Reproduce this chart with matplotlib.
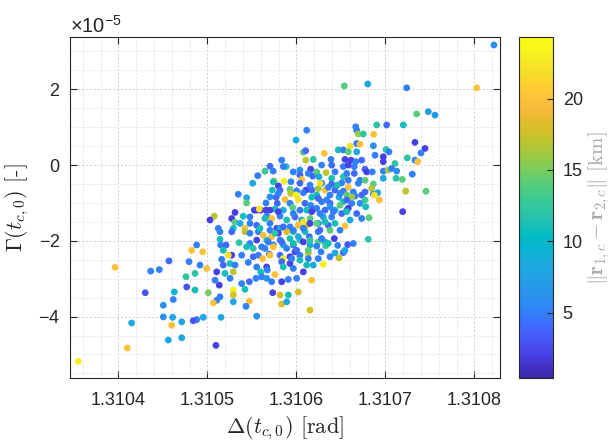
import numpy as np
import matplotlib
matplotlib.use("Agg")
import matplotlib.pyplot as plt
from matplotlib.colors import LinearSegmentedColormap, Normalize
from matplotlib.ticker import MultipleLocator, FixedLocator, FormatStrFormatter, ScalarFormatter

# ---------------- data ----------------
# Delta(t_c,0) [rad], Gamma(t_c,0) [x1e-5], separation ||r1 - r2|| [km]
delta = [
 1.3106116,1.3105996,1.3106078,1.3106105,1.3106105,1.3106190,1.3105835,1.3105703,1.3105883,1.3105965,
 1.3106040,1.3106161,1.3105647,1.3105740,1.3106040,1.3106134,1.3106060,1.3106183,1.3105565,1.3105748,
 1.3105861,1.3105939,1.3105509,1.3105797,1.3105729,1.3105816,1.3105928,1.3106003,1.3106108,1.3106172,
 1.3105936,1.3105996,1.3106078,1.3105347,1.3105441,1.3105771,1.3105872,1.3106021,1.3106172,1.3105441,
 1.3105658,1.3105785,1.3105928,1.3106097,1.3106161,1.3105527,1.3105554,1.3105599,1.3105583,1.3105658,
 1.3105759,1.3105853,1.3105958,1.3106040,1.3106116,1.3106190,1.3105310,1.3105403,1.3105666,1.3105722,
 1.3105816,1.3105891,1.3105984,1.3106060,1.3106153,1.3105077,1.3105029,1.3105273,1.3105310,1.3105366,
 1.3105478,1.3105554,1.3105703,1.3105779,1.3105928,1.3106021,1.3106116,1.3105122,1.3105291,1.3105422,
 1.3105816,
 # right-upper block
 1.3107352,1.3107483,1.3107558,1.3106667,1.3106678,1.3106903,1.3107015,1.3107202,1.3106696,1.3106752,
 1.3106869,1.3106603,1.3106678,1.3106715,1.3106865,1.3107333,1.3106471,1.3106527,1.3106583,1.3106678,
 1.3107007,1.3107041,1.3107446,1.3107401,1.3106314,1.3106884,1.3106977,1.3107247,1.3107333,1.3107364,
 1.3106389,1.3106546,1.3106614,1.3106667,1.3106734,1.3106977,1.3107108,1.3106284,1.3106397,1.3106527,
 1.3106583,1.3106651,1.3106771,1.3106790,1.3106853,1.3106977,1.3107033,1.3107071,1.3107128,1.3107303,
 1.3106228,1.3106333,1.3106434,1.3106651,1.3106254,1.3106397,1.3106527,1.3106583,1.3106715,1.3106771,
 1.3106977,1.3107120,1.3107191,1.3106284,1.3106397,1.3106509,1.3106583,1.3106696,1.3106865,1.3106847,
 1.3106914,1.3106246,1.3106322,1.3106359,1.3106434,1.3106527,1.3106640,1.3106771,1.3106865,1.3107229,
 1.3107457,1.3106228,1.3106378,1.3106479,1.3106566,1.3106659,1.3106734,1.3106876,1.3106932,1.3106771,
 1.3106284,1.3106378,1.3106527,1.3106622,1.3106715,1.3106779,1.3106228,1.3106322,1.3106434,1.3106566,
 1.3106583,1.3107195,1.3106302,1.3106397,1.3106509,1.3106734,1.3106816,1.3106246,1.3106359,1.3106546,
 1.3106434,
 # left-lower block
 1.3105141,1.3105273,1.3105422,1.3105572,1.3105797,1.3105891,1.3105965,1.3106097,1.3105141,1.3105355,
 1.3105478,1.3105554,1.3105722,1.3105666,1.3105816,1.3105928,1.3106040,1.3106145,1.3104879,1.3105149,
 1.3105209,1.3105441,1.3105515,1.3105610,1.3105740,1.3105853,1.3105965,1.3106153,1.3104823,1.3104947,
 1.3105178,1.3105273,1.3105234,1.3105385,1.3105515,1.3105572,1.3105621,1.3105695,1.3105816,1.3105853,
 1.3105928,1.3105984,1.3106040,1.3106134,1.3106134,1.3104916,1.3104992,1.3105160,1.3105178,1.3105254,
 1.3105310,1.3105291,1.3105459,1.3105554,1.3105599,1.3105666,1.3105673,1.3105759,1.3105835,1.3105853,
 1.3105928,1.3105965,1.3106078,1.3106116,1.3105104,1.3105197,1.3105254,1.3104860,1.3105133,1.3105085,
 1.3105385,1.3105471,1.3105546,1.3105610,1.3105666,1.3105722,1.3105835,1.3105909,1.3106003,1.3106172,
 1.3104860,1.3105291,1.3105422,1.3105010,1.3105734,1.3105816,1.3105909,1.3106021,1.3105291,1.3105141,
 1.3105104,1.3105066,1.3105291,1.3105471,1.3105433,1.3105835,1.3105891,1.3106153,1.3104879,1.3104841,
 1.3104953,1.3105152,1.3105554,1.3105096,
 # right-lower block
 1.3106246,1.3106378,1.3106426,1.3106246,1.3106322,1.3106329,1.3106228,1.3106464,1.3106577,1.3106808,
 1.3106277,1.3106434,1.3106527,1.3106479,1.3106302,
 # far left
 1.3103548,1.3104099,1.3103961,1.3104148,1.3104301,1.3104362,1.3104459,1.3104504,1.3104504,1.3104560,
 1.3104598,1.3104609,1.3104616,1.3104627,1.3104568,1.3104711,1.3104711,1.3104767,1.3104793,1.3104759,
 # far upper right
 1.3108221,1.3108027,1.3107240,1.3106802,1.3106539,
 # dense core
 1.3105853,1.3106566,1.3105740,1.3106040,1.3106153,1.3106265,1.3106460,1.3106490,1.3106622,1.3105797,
 1.3105703,1.3106246,1.3106341,1.3106566,1.3106378,1.3106490,1.3105703,1.3105797,1.3105965,1.3106172,
 1.3106265,1.3106415,1.3106566,1.3106678,1.3105478,1.3105647,1.3106078,1.3106153,1.3106228,1.3106322,
 1.3106603,1.3105591,1.3105703,1.3105853,1.3105965,1.3106078,1.3106265,1.3106490,1.3105478,1.3105628,
 1.3105759,1.3106021,1.3106284,1.3105684,1.3105835,1.3105965,1.3106078,1.3106153,1.3106359,1.3106640,
 1.3105647,1.3105740,1.3105891,1.3106003,1.3106134,1.3106546,1.3105703,1.3105947,1.3106040,1.3106246,
 1.3106378,1.3106190,
]
gamma_e5 = [
 0.92,0.66,0.34,0.38,0.13,0.15,0.13,-0.03,-0.04,-0.18,
 -0.13,-0.11,-0.16,-0.16,-0.26,-0.22,-0.38,-0.29,-0.28,-0.42,
 -0.42,-0.44,-0.48,-0.55,-0.66,-0.66,-0.64,-0.68,-0.66,-0.66,
 -0.75,-0.79,-0.73,-0.77,-0.86,-0.85,-0.91,-0.91,-0.85,-1.00,
 -1.00,-1.01,-1.01,-1.01,-1.06,-1.19,-1.19,-1.19,-1.16,-1.19,
 -1.16,-1.19,-1.12,-1.19,-1.19,-1.17,-1.25,-1.35,-1.35,-1.41,
 -1.35,-1.45,-1.37,-1.45,-1.41,-1.35,-1.45,-1.41,-1.51,-1.54,
 -1.54,-1.59,-1.54,-1.67,-1.63,-1.59,-1.59,-1.67,-1.67,-1.67,
 -1.67,
 1.35,1.41,1.32,1.01,0.92,1.06,1.06,1.06,0.82,0.82,
 0.81,0.50,0.57,0.55,0.51,0.60,0.40,0.40,0.35,0.35,
 0.41,0.35,0.44,0.32,0.31,0.26,0.22,0.19,0.13,0.09,
 0.15,0.15,0.13,0.09,0.13,0.09,0.04,0.00,0.00,-0.04,
 0.00,-0.04,-0.11,-0.18,-0.18,-0.16,-0.13,-0.09,-0.16,-0.24,
 -0.18,-0.20,-0.18,-0.22,-0.31,-0.35,-0.31,-0.40,-0.40,-0.40,
 -0.35,-0.35,-0.38,-0.48,-0.50,-0.47,-0.59,-0.48,-0.50,-0.62,
 -0.73,-0.62,-0.66,-0.59,-0.66,-0.69,-0.71,-0.71,-0.77,-0.69,
 -0.69,-0.79,-0.79,-0.85,-0.79,-0.82,-0.79,-0.79,-0.92,-0.92,
 -0.97,-1.01,-0.97,-1.01,-1.01,-1.10,-1.14,-1.19,-1.19,-1.19,
 -1.14,-1.23,-1.37,-1.37,-1.28,-1.41,-1.39,-1.54,-1.59,-1.61,
 -1.54,
 -1.76,-1.76,-1.76,-1.76,-1.80,-1.76,-1.76,-1.76,-1.96,-2.05,
 -2.07,-1.98,-1.89,-1.98,-1.98,-1.94,-1.98,-1.89,-2.11,-2.11,
 -2.11,-2.16,-2.20,-2.16,-2.11,-2.11,-2.11,-2.11,-2.25,-2.29,
 -2.25,-2.38,-2.38,-2.38,-2.42,-2.38,-2.47,-2.35,-2.38,-2.47,
 -2.42,-2.29,-2.38,-2.33,-2.47,-2.64,-2.73,-2.49,-2.64,-2.60,
 -2.64,-2.82,-2.57,-2.69,-2.82,-2.69,-2.77,-2.89,-2.55,-2.69,
 -2.60,-2.73,-2.82,-2.64,-2.82,-2.86,-2.99,-2.86,-3.17,-3.04,
 -3.13,-3.08,-2.99,-2.95,-2.99,-3.08,-3.08,-3.02,-2.99,-3.04,
 -3.30,-3.30,-3.28,-3.37,-3.37,-3.43,-3.43,-3.35,-3.43,-3.48,
 -3.57,-3.64,-3.61,-3.59,-3.73,-3.67,-3.61,-3.83,-4.08,-4.11,
 -4.02,-4.02,-3.99,-4.76,
 -1.76,-1.72,-1.94,-2.03,-2.03,-2.13,-2.14,-2.12,-2.10,-1.96,
 -2.29,-2.32,-2.31,-2.45,-2.62,
 -5.18,-4.83,-2.70,-4.17,-3.37,-2.80,-2.76,-3.70,-4.01,-4.62,
 -4.23,-4.02,-3.55,-3.35,-2.53,-4.14,-4.56,-3.22,-2.55,-2.95,
 3.17,2.04,2.04,2.14,2.09,
 -0.04,-0.22,-0.44,-0.48,-0.53,-0.48,-0.53,-0.75,-0.84,-0.75,
 -0.84,-0.88,-0.92,-0.92,-1.10,-1.06,-1.19,-1.23,-1.28,-1.23,
 -1.28,-1.23,-1.23,-1.28,-1.37,-1.41,-1.50,-1.54,-1.54,-1.50,
 -1.45,-1.67,-1.72,-1.63,-1.72,-1.67,-1.72,-1.72,-1.80,-1.85,
 -1.80,-1.89,-1.94,-2.03,-2.03,-2.07,-2.03,-1.98,-2.07,-2.07,
 -2.20,-2.16,-2.20,-2.25,-2.25,-2.25,-2.38,-2.47,-2.51,-2.47,
 -2.42,-2.64,
]
sep_km = [
 5,9,14,4,17,12,5,4,11,5,
 6,2,13,5,4,5,20,4,5,17,
 23,5,8,2,11,4,14,5,2,4,
 17,23,5,5,8,4,20,22,11,14,
 5,4,5,4,6,2,2,2,22,2,
 11,8,14,5,11,4,2,11,5,20,
 5,11,4,8,14,17,2,2,14,8,
 5,4,5,2,5,20,18,5,11,20,
 8,
 14,7,7,5,5,12,4,11,16,12,
 20,22,5,20,6,2,11,5,14,8,
 12,5,2,5,20,5,2,12,5,20,
 5,2,2,5,4,2,12,5,4,5,
 2,5,4,2,5,5,16,5,6,5,
 14,17,5,4,8,11,12,5,5,14,
 8,12,14,5,4,5,20,5,14,17,
 8,16,20,5,4,5,5,4,5,17,
 14,11,5,8,14,5,4,22,20,13,
 5,4,11,5,6,11,5,4,8,5,
 2,2,8,5,4,5,14,5,4,20,
 11,
 5,4,17,5,2,18,12,11,11,12,
 5,2,20,11,5,11,12,4,5,5,
 4,11,12,5,5,8,4,8,20,20,
 11,2,22,5,4,5,20,5,4,23,
 2,2,5,17,5,5,20,5,4,11,
 5,17,5,5,11,2,5,20,4,11,
 2,5,2,11,2,11,5,12,2,5,
 5,4,5,5,6,5,2,5,5,20,
 11,23,11,15,2,18,11,18,18,5,
 5,20,8,20,5,18,8,18,5,3,
 8,8,6,2,
 5,14,2,14,8,13,5,5,3,12,
 5,8,4,17,23,
 23,20,20,8,3,5,5,6,6,8,
 20,8,5,9,4,8,8,3,5,12,
 6,20,5,8,14,
 5,5,11,4,5,22,11,5,16,5,
 6,4,5,4,6,14,2,2,5,2,
 5,5,11,4,5,11,22,2,14,11,
 8,11,5,4,5,5,4,5,5,20,
 12,8,5,5,4,11,2,12,11,5,
 5,20,5,4,14,8,20,5,11,5,
 5,8,
]

x_ticks = [1.3104, 1.3105, 1.3106, 1.3107, 1.3108]
y_ticks_e5 = [-4, -2, 0, 2]
cbar_ticks = [5, 10, 15, 20]
x_lim = (1.3103455, 1.3108289)
y_lim_e5 = (-5.63, 3.374)
c_lim = (0.4, 24.3)

# parula colormap anchors
parula_rgb = [
 (0.2422,0.1504,0.6603),(0.2647,0.1978,0.7952),(0.2783,0.2559,0.8991),(0.2810,0.3228,0.9579),
 (0.2699,0.3892,0.9906),(0.2206,0.4603,0.9973),(0.1786,0.5289,0.9682),(0.1687,0.5703,0.9359),
 (0.1460,0.6091,0.9079),(0.1248,0.6459,0.8883),(0.0952,0.6798,0.8598),(0.0297,0.7082,0.8163),
 (0.0067,0.7312,0.7660),(0.0964,0.7500,0.7120),(0.1717,0.7670,0.6554),(0.2161,0.7843,0.5923),
 (0.2906,0.7973,0.5188),(0.3909,0.8029,0.4354),(0.5044,0.7993,0.3480),(0.6174,0.7876,0.2612),
 (0.7242,0.7698,0.1910),(0.8203,0.7498,0.1535),(0.9035,0.7330,0.1774),(0.9728,0.7298,0.2394),
 (0.9970,0.7659,0.2199),(0.9892,0.8136,0.1885),(0.9676,0.8639,0.1643),(0.9597,0.9135,0.1423),
 (0.9691,0.9606,0.1064),(0.9769,0.9839,0.0805),
]

# ---------------- style ----------------
plt.rcParams['font.family'] = ['Liberation Sans', 'DejaVu Sans']
plt.rcParams['axes.unicode_minus'] = False
plt.rcParams['mathtext.fontset'] = 'custom'
plt.rcParams['mathtext.rm'] = 'Liberation Sans'
plt.rcParams['mathtext.it'] = 'Liberation Sans:italic'
plt.rcParams['mathtext.bf'] = 'Liberation Sans:bold'
TXT = '#262626'

parula = LinearSegmentedColormap.from_list('parula', parula_rgb, N=256)

fig = plt.figure(figsize=(6.10, 4.43), dpi=100)
ax = fig.add_axes([70/610, 1-378.3/443, 430/610, 341/443])
cax = fig.add_axes([519/610, 1-378.3/443, 34/610, 341/443])

x = np.array(delta)
y = np.array(gamma_e5) * 1e-5
c = np.array(sep_km)
norm = Normalize(vmin=c_lim[0], vmax=c_lim[1])
sc = ax.scatter(x, y, c=c, cmap=parula, norm=norm, s=24, linewidths=0, zorder=3)

ax.set_xlim(*x_lim)
ax.set_ylim(y_lim_e5[0]*1e-5, y_lim_e5[1]*1e-5)
ax.xaxis.set_major_locator(FixedLocator(x_ticks))
ax.xaxis.set_major_formatter(FormatStrFormatter('%.4f'))
ax.xaxis.set_minor_locator(MultipleLocator(2e-5))
ax.yaxis.set_major_locator(FixedLocator([v*1e-5 for v in y_ticks_e5]))
fmt = ScalarFormatter(useMathText=True)
fmt.set_powerlimits((-5, -5))
ax.yaxis.set_major_formatter(fmt)
ax.yaxis.set_minor_locator(MultipleLocator(0.5e-5))

ax.grid(which='major', color='#cfcfcf', linestyle=(0, (2, 2)), linewidth=0.7, zorder=0)
ax.grid(which='minor', color='#dedede', linestyle=(0, (2, 2)), linewidth=0.6, zorder=0)
ax.set_axisbelow(True)
for s in ax.spines.values():
    s.set_color(TXT)
    s.set_linewidth(0.8)
ax.tick_params(which='major', direction='in', length=5, width=0.8, color=TXT,
               labelcolor=TXT, labelsize=13, top=True, right=True)
ax.tick_params(axis='x', which='major', pad=10)
ax.tick_params(axis='y', which='major', pad=7)
ax.tick_params(which='minor', length=0, top=True, right=True)
off = ax.yaxis.get_offset_text()
off.set_fontsize(14.5)
off.set_color(TXT)

ax.set_xlabel(r'$\Delta(t_{c,0})$ [rad]', fontsize=16, family='cmr10', math_fontfamily='cm',
              color=TXT, labelpad=4)
ax.set_ylabel(r'$\Gamma(t_{c,0})$ [-]', fontsize=16, family='cmr10', math_fontfamily='cm',
              color=TXT, labelpad=5)

cb = fig.colorbar(sc, cax=cax)
cb.set_ticks(cbar_ticks)
cb.outline.set_edgecolor(TXT)
cb.outline.set_linewidth(0.8)
cax.tick_params(direction='in', length=4, width=0.8, color=TXT, labelcolor=TXT,
                labelsize=13, pad=7)
cb.set_label(r'$\|\mathbf{r}_{1,c}-\mathbf{r}_{2,c}\|$ [km]', fontsize=15, family='cmr10',
             math_fontfamily='cm', color='#a8a8a8', labelpad=2)

fig.savefig('out.png', dpi=100)
